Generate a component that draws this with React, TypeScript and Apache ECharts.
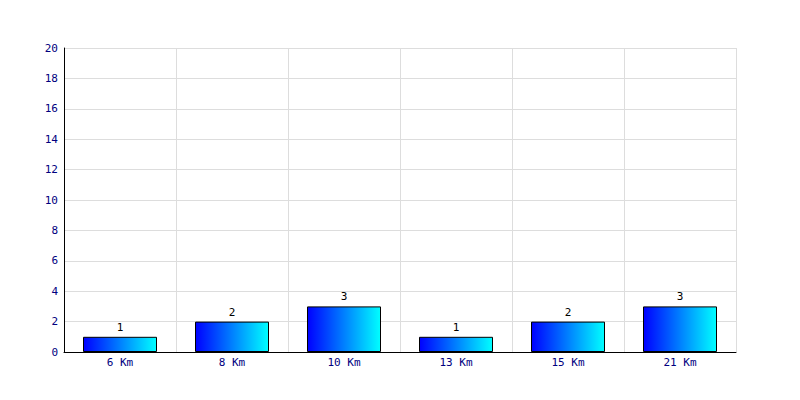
import React, { useEffect, useRef } from "react";
import * as echarts from "echarts";

const categories = ["6 Km", "8 Km", "10 Km", "13 Km", "15 Km", "21 Km"];
const values = [1, 2, 3, 1, 2, 3];
const yMin = 0;
const yMax = 20;
const yInterval = 2;

export default function App() {
  const ref = useRef<HTMLDivElement>(null);
  useEffect(() => {
    if (!ref.current) return;
    const chart = echarts.init(ref.current, undefined, { renderer: "svg" });
    const font = "'DejaVu Sans Mono', monospace";
    chart.setOption({
      animation: false,
      backgroundColor: "#ffffff",
      grid: { left: 64, right: 64, top: 48, bottom: 48, containLabel: false },
      xAxis: {
        type: "category",
        data: categories,
        boundaryGap: true,
        axisLine: { show: true, lineStyle: { color: "#000000", width: 1 } },
        axisTick: { show: false },
        axisLabel: { color: "#000080", fontFamily: font, fontSize: 11, margin: 5 },
        splitLine: { show: true, lineStyle: { color: "#dddddd", width: 1 } },
      },
      yAxis: {
        type: "value",
        min: yMin,
        max: yMax,
        interval: yInterval,
        axisLine: { show: true, lineStyle: { color: "#000000", width: 1 } },
        axisTick: { show: false },
        axisLabel: { color: "#000080", fontFamily: font, fontSize: 11, margin: 6 },
        splitLine: { show: true, lineStyle: { color: "#dddddd", width: 1 } },
      },
      series: [
        {
          type: "bar",
          data: values,
          barWidth: 74,
          itemStyle: {
            color: new echarts.graphic.LinearGradient(0, 0, 1, 0, [
              { offset: 0, color: "#0000ff" },
              { offset: 1, color: "#00ffff" },
            ]),
            borderColor: "#000000",
            borderWidth: 1,
          },
          label: {
            show: true,
            position: "top",
            distance: 4,
            color: "#000000",
            fontFamily: font,
            fontSize: 11,
          },
        },
      ],
    });
    return () => chart.dispose();
  }, []);
  return (
    <div
      ref={ref}
      style={{ position: "absolute", left: 0, top: 0, width: 800, height: 400 }}
    />
  );
}
